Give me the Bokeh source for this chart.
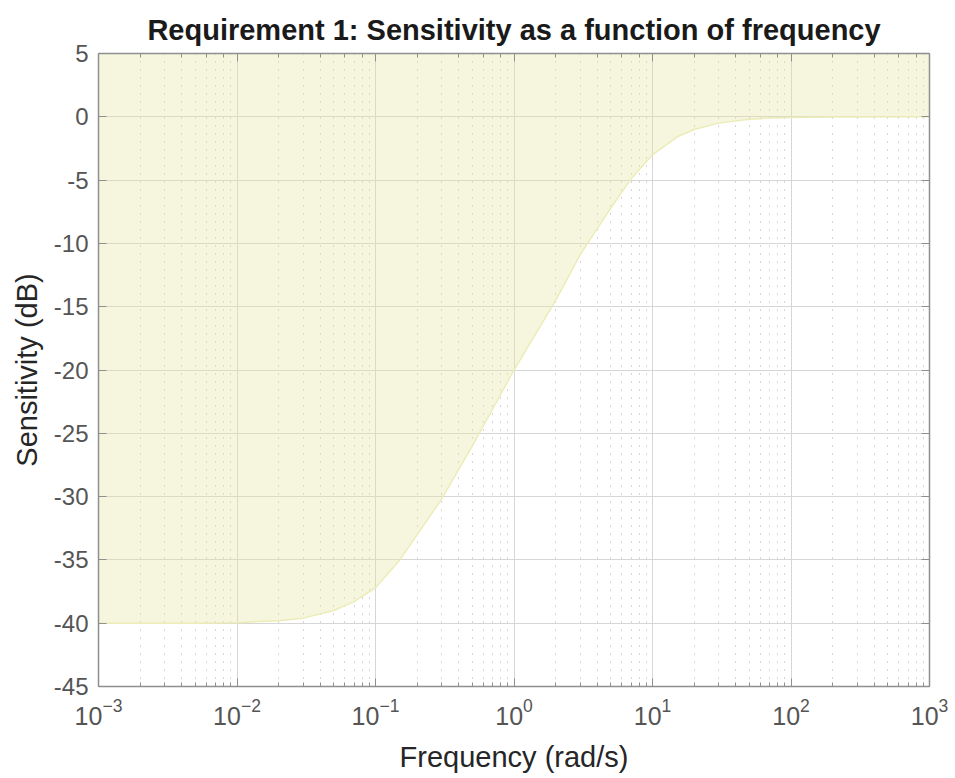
import numpy as np
from bokeh.plotting import figure
from bokeh.models import LogAxis, LinearAxis, FixedTicker, LogTicker, CustomJSTickFormatter
from bokeh.embed import file_html
from bokeh.resources import INLINE

# Sensitivity bound (frequency in rad/s, bound in dB)
freq = [0.001, 0.002, 0.005, 0.01, 0.02, 0.03, 0.05, 0.07, 0.1, 0.15, 0.2,
        0.3, 0.5, 0.7, 1.0, 1.5, 2.0, 3.0, 5.0, 7.0, 10.0, 15.0, 20.0, 30.0,
        50.0, 70.0, 100.0, 200.0, 1000.0]
bound_db = [-40.0, -40.0, -40.0, -39.96, -39.8, -39.6, -39.0, -38.3, -37.2,
            -35.0, -33.0, -30.2, -26.0, -23.1, -20.0, -16.8, -14.5, -10.9,
            -7.2, -4.9, -3.0, -1.6, -1.0, -0.5, -0.2, -0.1, -0.05, -0.01, 0.0]
y_top = [5.0] * len(freq)

x_lim = (1e-3, 1e3)
y_lim = (-45, 5)
y_ticks = [5, 0, -5, -10, -15, -20, -25, -30, -35, -40, -45]

FONT = "Liberation Sans"
AX_COL = "#8f8f8f"
LBL_COL = "#555555"

p = figure(width=952, height=775, x_axis_type="log", x_range=x_lim, y_range=y_lim,
           output_backend="svg", toolbar_location=None,
           min_border_left=98, min_border_right=23, min_border_top=53, min_border_bottom=87)

p.title.text = "Requirement 1: Sensitivity as a function of frequency"
p.title.text_font = FONT
p.title.text_font_style = "bold"
p.title.text_font_size = "29px"
p.title.align = "center"
p.title.text_color = "#1a1a1a"
p.title.standoff = 16

p.outline_line_color = None
p.background_fill_color = "white"
p.border_fill_color = "white"

# grid
p.xgrid.grid_line_color = "#d6d6d6"
p.ygrid.grid_line_color = "#d6d6d6"
p.xgrid.minor_grid_line_color = "#acacac"
p.xgrid.minor_grid_line_dash = "1 7"
p.ygrid.ticker = FixedTicker(ticks=y_ticks)

# shaded region (area above the bound)
p.varea(x=freq, y1=bound_db, y2=y_top, fill_color="#e6e6a0", fill_alpha=0.35)
p.line(x=freq, y=bound_db, line_color="#ececb8", line_width=1.5)

def style_axis(ax, fs="24px"):
    ax.axis_line_color = AX_COL
    ax.axis_line_width = 1.5
    ax.major_tick_line_color = AX_COL
    ax.minor_tick_line_color = AX_COL
    ax.major_tick_in = 8
    ax.major_tick_out = 0
    ax.minor_tick_in = 4
    ax.minor_tick_out = 0
    ax.major_label_text_font = FONT
    ax.major_label_text_font_size = fs
    ax.major_label_text_color = LBL_COL
    ax.axis_label_text_font = FONT
    ax.axis_label_text_font_size = "29px"
    ax.axis_label_text_font_style = "normal"
    ax.axis_label_text_color = "#262626"

blank = CustomJSTickFormatter(code="return ''")

xa = p.xaxis[0]
style_axis(xa, fs="25px")
xa.axis_label = "Frequency (rad/s)"
xa.major_label_standoff = 11
xa.axis_label_standoff = 13

ya = p.yaxis[0]
style_axis(ya)
ya.ticker = FixedTicker(ticks=y_ticks)
ya.major_label_overrides = {t: str(t) for t in y_ticks}
ya.axis_label = "Sensitivity (dB)"
ya.minor_tick_line_color = None
ya.major_label_standoff = 10
ya.axis_label_standoff = 8

top = LogAxis(ticker=LogTicker(), formatter=blank)
style_axis(top, fs="1px")
top.major_label_standoff = 0
p.add_layout(top, "above")

right = LinearAxis(ticker=FixedTicker(ticks=y_ticks), formatter=blank)
style_axis(right, fs="1px")
right.major_label_standoff = 0
right.minor_tick_line_color = None
p.add_layout(right, "right")

open("out.html", "w").write(file_html(p, INLINE))
